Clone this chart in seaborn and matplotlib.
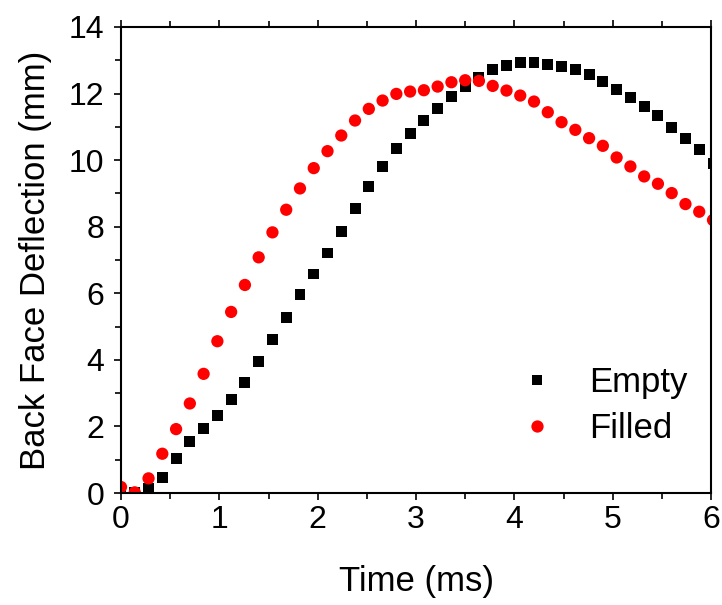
import pandas as pd
import matplotlib
matplotlib.use("Agg")
import matplotlib.pyplot as plt
import seaborn as sns
from matplotlib.ticker import MultipleLocator

# time axis (ms), both series sampled at the same instants
time_ms = [0.00, 0.14, 0.28, 0.42, 0.56, 0.70, 0.84, 0.98, 1.12, 1.26, 1.40,
           1.54, 1.68, 1.82, 1.96, 2.10, 2.24, 2.38, 2.52, 2.66, 2.80, 2.94,
           3.08, 3.22, 3.36, 3.50, 3.64, 3.78, 3.92, 4.06, 4.20, 4.34, 4.48,
           4.62, 4.76, 4.90, 5.04, 5.18, 5.32, 5.46, 5.60, 5.74, 5.88, 6.02]

empty_mm = [0.00, 0.02, 0.14, 0.48, 1.04, 1.54, 1.94, 2.34, 2.80, 3.33, 3.95,
            4.62, 5.28, 5.95, 6.58, 7.21, 7.87, 8.56, 9.22, 9.81, 10.36, 10.81,
            11.19, 11.55, 11.90, 12.21, 12.49, 12.72, 12.85, 12.93, 12.94, 12.88, 12.80,
            12.71, 12.57, 12.36, 12.11, 11.87, 11.61, 11.33, 10.98, 10.65, 10.31, 9.90]

filled_mm = [0.18, 0.02, 0.44, 1.18, 1.92, 2.69, 3.58, 4.56, 5.44, 6.25, 7.08,
             7.83, 8.51, 9.15, 9.76, 10.27, 10.74, 11.19, 11.54, 11.79, 11.99, 12.06,
             12.10, 12.21, 12.34, 12.40, 12.38, 12.23, 12.09, 11.94, 11.76, 11.44, 11.14,
             10.91, 10.66, 10.43, 10.08, 9.81, 9.51, 9.29, 9.01, 8.68, 8.45, 8.20]

df = pd.concat([
    pd.DataFrame({"time": time_ms, "defl": empty_mm, "sample": "Empty"}),
    pd.DataFrame({"time": time_ms, "defl": filled_mm, "sample": "Filled"}),
], ignore_index=True)

sns.set_style("ticks")
plt.rcParams['font.family'] = ['Liberation Sans', 'DejaVu Sans']
plt.rcParams['text.color'] = 'black'
plt.rcParams['axes.labelcolor'] = 'black'
plt.rcParams['xtick.color'] = 'black'
plt.rcParams['ytick.color'] = 'black'

fig = plt.figure(figsize=(7.22, 6.05), dpi=100)
ax = fig.add_axes([0.1676, 0.1851, 0.8172, 0.7703])

sns.scatterplot(data=df, x="time", y="defl", hue="sample", style="sample",
                palette={"Empty": "black", "Filled": "red"},
                markers={"Empty": "s", "Filled": "o"},
                size="sample", sizes={"Empty": 62, "Filled": 78},
                linewidth=0, ax=ax)

ax.set_xlim(0, 6)
ax.set_ylim(0, 14)
ax.xaxis.set_major_locator(MultipleLocator(1))
ax.xaxis.set_minor_locator(MultipleLocator(0.5))
ax.yaxis.set_major_locator(MultipleLocator(2))
ax.yaxis.set_minor_locator(MultipleLocator(1))

for sp in ax.spines.values():
    sp.set_linewidth(1.5)
    sp.set_color("black")

ax.tick_params(which="both", direction="out", width=1.2, color="black",
               labelcolor="black", labelsize=23, top=True, right=False,
               labeltop=False)
ax.tick_params(which="major", length=5)
ax.tick_params(which="minor", length=4)
ax.tick_params(axis="y", which="major", pad=7)

ax.set_xlabel("Time (ms)", fontsize=25, labelpad=22)
ax.set_ylabel("Back Face Deflection (mm)", fontsize=25, labelpad=12)

sns.move_legend(ax, "center left", bbox_to_anchor=(0.622, 0.188), frameon=False,
                title=None, fontsize=25, handlelength=1.0, handletextpad=1.0,
                labelspacing=0.38, borderpad=0.4)

fig.savefig("out.png", dpi=100)
